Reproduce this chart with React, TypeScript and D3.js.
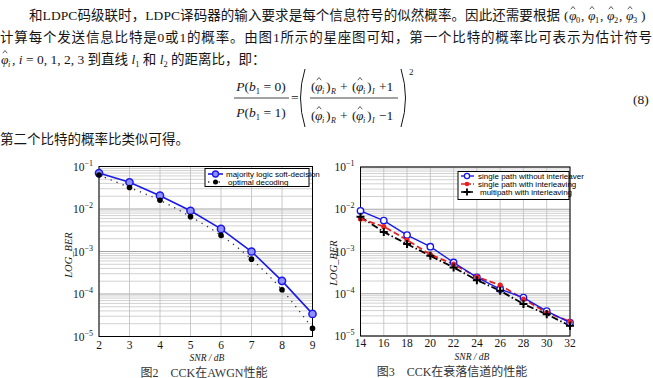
import React from 'react';
import * as d3 from 'd3';

// ---------- data ----------
const awgnSnr = [2, 3, 4, 5, 6, 7, 8, 9];
const awgnMajority = [0.07, 0.0425, 0.0206, 0.0091, 0.0034, 0.001, 0.000204, 0.000034];
const awgnOptimal = [0.063, 0.032, 0.016, 0.0066, 0.0024, 0.00066, 0.000126, 0.0000155];
const awgnXTicks = [2, 3, 4, 5, 6, 7, 8, 9];
const awgnLegend = ['majority logic soft-decision', 'optimal decoding'];

const fadeSnr = [14, 16, 18, 20, 22, 24, 26, 28, 30, 32];
const fadeNoInterleave = [0.0092, 0.0054, 0.00245, 0.0013, 0.00055, 0.000245, 0.000129, 0.000081, 0.000039, 0.0000207];
const fadeInterleave = [0.0059, 0.0039, 0.00187, 0.00085, 0.0005, 0.00025, 0.00016, 0.000075, 0.000036, 0.000022];
const fadeMultipath = [0.0066, 0.0029, 0.0015, 0.00079, 0.00042, 0.00021, 0.000118, 0.000057, 0.0000325, 0.0000175];
const fadeXTicks = [14, 16, 18, 20, 22, 24, 26, 28, 30, 32];
const fadeLegend = ['single path without interleaver', 'single path with interleaving', 'multipath with interleaving'];

const yTickExps = [-1, -2, -3, -4, -5];

const SERIF = "'Liberation Serif', 'Noto Sans CJK SC', serif";
const SANS = "'Liberation Sans', Arial, sans-serif";
const TXT = '#151515';
const BLUE = '#1a1ae8';
const RED = '#e82020';

type Box = { x0: number; x1: number; yTop: number; yBot: number };

function Grid({ box, xs, ys, xTicks }: { box: Box; xs: any; ys: any; xTicks: number[] }) {
  const minors: number[] = [];
  for (let e = -5; e < -1; e++) for (let m = 2; m <= 9; m++) minors.push(m * Math.pow(10, e));
  return (
    <g>
      {minors.map((v, i) => (
        <line key={'h' + i} x1={box.x0} x2={box.x1} y1={ys(v)} y2={ys(v)} stroke="#bdbdbd" strokeWidth={0.7} />
      ))}
      {yTickExps.map((e) => (
        <line key={'d' + e} x1={box.x0} x2={box.x1} y1={ys(Math.pow(10, e))} y2={ys(Math.pow(10, e))} stroke="#9a9a9a" strokeWidth={0.9} />
      ))}
      {xTicks.map((t) => (
        <line key={'v' + t} x1={xs(t)} x2={xs(t)} y1={box.yTop} y2={box.yBot} stroke="#bdbdbd" strokeWidth={0.8} />
      ))}
      <rect x={box.x0} y={box.yTop} width={box.x1 - box.x0} height={box.yBot - box.yTop} fill="none" stroke="#000" strokeWidth={1} />
    </g>
  );
}

function Axes({ box, xs, ys, xTicks, xLabelY, snrY, yLabelX, yLabelY, titleX }: any) {
  return (
    <g fill={TXT}>
      {yTickExps.map((e) => (
        <text key={e} x={box.x0 - 6} y={ys(Math.pow(10, e)) + 4} textAnchor="end" fontSize={11.5} fontFamily={SERIF}>
          10<tspan dy={-5} fontSize={8}>{'\u2212' + Math.abs(e)}</tspan>
        </text>
      ))}
      {xTicks.map((t: number) => (
        <text key={t} x={xs(t)} y={xLabelY} textAnchor="middle" fontSize={11.5} fontFamily={SERIF}>
          {t}
        </text>
      ))}
      <text x={titleX} y={snrY} textAnchor="middle" fontSize={9.5} fontStyle="italic" fontFamily={SERIF}>
        SNR / dB
      </text>
      <text transform={`translate(${yLabelX},${yLabelY}) rotate(-90)`} textAnchor="middle" fontSize={10.5} fontStyle="italic" fontFamily={SERIF}>
        LOG_BER
      </text>
    </g>
  );
}

function PhiHat({ x, y, fs = 13.5, sub }: { x: number; y: number; fs?: number; sub?: string }) {
  return (
    <g>
      <text x={x} y={y} fontSize={fs} fontStyle="italic" fontFamily={SERIF} fill={TXT}>φ</text>
      <path d={`M${x + 1.8},${y - fs * 0.8} L${x + 4},${y - fs * 1.0} L${x + 6.2},${y - fs * 0.8}`} fill="none" stroke={TXT} strokeWidth={0.7} />
      {sub && (
        <text x={x + 7} y={y + 3} fontSize={fs * 0.62} fontFamily={SERIF} fontStyle={sub === 'i' ? 'italic' : 'normal'} fill={TXT}>
          {sub}
        </text>
      )}
    </g>
  );
}

function EqRow({ y, last }: { y: number; last: string }) {
  return (
    <g fill={TXT} fontFamily={SERIF} fontSize={13.5}>
      <text x={311} y={y}>(</text>
      <PhiHat x={315} y={y} sub="i" />
      <text x={326} y={y}>)</text>
      <text x={331} y={y + 3} fontSize={8} fontStyle="italic">R</text>
      <text x={340} y={y}>+</text>
      <text x={352} y={y}>(</text>
      <PhiHat x={356} y={y} sub="i" />
      <text x={367} y={y}>)</text>
      <text x={372} y={y + 3} fontSize={8} fontStyle="italic">I</text>
      <text x={379} y={y}>{last}</text>
    </g>
  );
}

export default function App() {
  const c1: Box = { x0: 99, x1: 312.5, yTop: 166.5, yBot: 336.5 };
  const c2: Box = { x0: 360.5, x1: 570, yTop: 167, yBot: 336 };
  const xs1 = d3.scaleLinear().domain([2, 9]).range([c1.x0, c1.x1]);
  const ys1 = d3.scaleLog().domain([1e-5, 1e-1]).range([c1.yBot, c1.yTop]);
  const xs2 = d3.scaleLinear().domain([14, 32]).range([c2.x0, c2.x1]);
  const ys2 = d3.scaleLog().domain([1e-5, 1e-1]).range([c2.yBot, c2.yTop]);

  const line1 = d3.line<number>().x((_, i) => xs1(awgnSnr[i])).y((d) => ys1(d));
  const line1c = d3.line<number>().x((_, i) => xs1(awgnSnr[i])).y((d) => ys1(d)).curve(d3.curveCatmullRom);
  const line2 = d3.line<number>().x((_, i) => xs2(fadeSnr[i])).y((d) => ys2(d));

  const plus = (x: number, y: number, s = 4) => `M${x - s},${y}H${x + s}M${x},${y - s}V${y + s}`;

  return (
    <svg width={653} height={378} style={{ position: 'absolute', left: 0, top: 0, background: '#fff' }}>
      <rect width={653} height={378} fill="#fff" />
      {/* ---------- body text ---------- */}
      <g fill={TXT} fontFamily={SERIF} fontSize={13.5}>
        <text x={29} y={20} textLength={531} lengthAdjust="spacing">
          和LDPC码级联时，LDPC译码器的输入要求是每个信息符号的似然概率。因此还需要根据
        </text>
        <text x={564} y={20}>(</text>
        <PhiHat x={569} y={20} sub="0" />
        <text x={581} y={20}>,</text>
        <PhiHat x={588} y={20} sub="1" />
        <text x={600} y={20}>,</text>
        <PhiHat x={607} y={20} sub="2" />
        <text x={619} y={20}>,</text>
        <PhiHat x={626} y={20} sub="3" />
        <text x={641} y={20}>)</text>

        <text x={0} y={42} textLength={652} lengthAdjust="spacing">
          计算每个发送信息比特是0或1的概率。由图1所示的星座图可知，第一个比特的概率比可表示为估计符号
        </text>

        <PhiHat x={1} y={64} sub="i" />
        <text x={12} y={64}>
          ,<tspan fontStyle="italic"> i</tspan> = 0, 1, 2, 3 到直线 <tspan fontStyle="italic">l</tspan>
          <tspan dy={3} fontSize={8.5}>1</tspan>
          <tspan dy={-3}> 和 </tspan>
          <tspan fontStyle="italic">l</tspan>
          <tspan dy={3} fontSize={8.5}>2</tspan>
          <tspan dy={-3}> 的距离比，即：</tspan>
        </text>

        {/* equation */}
        <text x={261} y={91} textAnchor="middle">
          <tspan fontStyle="italic">P</tspan>(<tspan fontStyle="italic">b</tspan>
          <tspan dy={3} fontSize={8.5}>1</tspan>
          <tspan dy={-3}> = 0)</tspan>
        </text>
        <line x1={234} x2={289} y1={98} y2={98} stroke={TXT} strokeWidth={0.8} />
        <text x={261} y={117} textAnchor="middle">
          <tspan fontStyle="italic">P</tspan>(<tspan fontStyle="italic">b</tspan>
          <tspan dy={3} fontSize={8.5}>1</tspan>
          <tspan dy={-3}> = 1)</tspan>
        </text>
        <text x={291} y={102}>=</text>
        <path d="M305,69 Q296,98 305,127" fill="none" stroke={TXT} strokeWidth={1} />
        <path d="M401,69 Q410,98 401,127" fill="none" stroke={TXT} strokeWidth={1} />
        <text x={409} y={75} fontSize={9}>2</text>
        <EqRow y={91} last="+1" />
        <line x1={310} x2={398} y1={98} y2={98} stroke={TXT} strokeWidth={0.8} />
        <EqRow y={120} last={'\u22121'} />
        <text x={633} y={104}>(8)</text>

        <text x={0} y={144}>第二个比特的概率比类似可得。</text>
      </g>

      {/* ---------- chart 1 ---------- */}
      <Grid box={c1} xs={xs1} ys={ys1} xTicks={awgnXTicks} />
      <path d={line1c(awgnOptimal) || ''} fill="none" stroke="#333" strokeWidth={1.3} strokeDasharray="1.3,5" />
      <path d={line1(awgnMajority) || ''} fill="none" stroke={BLUE} strokeWidth={1.6} />
      {awgnMajority.map((v, i) => (
        <circle key={'m' + i} cx={xs1(awgnSnr[i])} cy={ys1(v)} r={3.6} fill="#9090ff" stroke={BLUE} strokeWidth={1.5} />
      ))}
      {awgnOptimal.map((v, i) => (
        <circle key={'o' + i} cx={xs1(awgnSnr[i])} cy={ys1(v)} r={2.8} fill="#000" />
      ))}
      <Axes box={c1} xs={xs1} ys={ys1} xTicks={awgnXTicks} xLabelY={349} snrY={361} yLabelX={72} yLabelY={255} titleX={207} />
      <g>
        <rect x={205} y={168.5} width={104} height={18} fill="#fff" stroke="#000" strokeWidth={1} />
        <line x1={208} x2={223} y1={174} y2={174} stroke={BLUE} strokeWidth={1.6} />
        <circle cx={215.5} cy={174} r={3} fill="#9090ff" stroke={BLUE} strokeWidth={1.3} />
        <text x={226} y={176.8} fontSize={8} fontFamily={SANS} fill="#000">{awgnLegend[0]}</text>
        <line x1={208} x2={223} y1={182} y2={182} stroke="#333" strokeWidth={1.3} strokeDasharray="1.3,4" />
        <circle cx={215.5} cy={182} r={2.5} fill="#000" />
        <text x={228} y={184.8} fontSize={8} fontFamily={SANS} fill="#000">{awgnLegend[1]}</text>
      </g>
      <text x={204} y={376.5} textAnchor="middle" fontSize={12} fontFamily={SERIF} fill="#333">
        图2　CCK在AWGN性能
      </text>

      {/* ---------- chart 2 ---------- */}
      <Grid box={c2} xs={xs2} ys={ys2} xTicks={fadeXTicks} />
      <path d={line2(fadeMultipath) || ''} fill="none" stroke="#000" strokeWidth={1.8} strokeDasharray="7,2.5,1.5,2.5" />
      <path d={line2(fadeInterleave) || ''} fill="none" stroke={RED} strokeWidth={1.8} strokeDasharray="6,3" />
      <path d={line2(fadeNoInterleave) || ''} fill="none" stroke={BLUE} strokeWidth={1.4} />
      {fadeNoInterleave.map((v, i) => (
        <circle key={'b' + i} cx={xs2(fadeSnr[i])} cy={ys2(v)} r={3.2} fill="#fff" stroke={BLUE} strokeWidth={1.4} />
      ))}
      {fadeInterleave.map((v, i) => (
        <circle key={'r' + i} cx={xs2(fadeSnr[i])} cy={ys2(v)} r={2.6} fill={RED} />
      ))}
      {fadeMultipath.map((v, i) => (
        <path key={'k' + i} d={plus(xs2(fadeSnr[i]), ys2(v))} stroke="#000" strokeWidth={2} fill="none" />
      ))}
      <Axes box={c2} xs={xs2} ys={ys2} xTicks={fadeXTicks} xLabelY={347} snrY={359.5} yLabelX={337} yLabelY={263} titleX={472} />
      <g>
        <rect x={458} y={171.5} width={111} height={28} fill="#fff" stroke="#000" strokeWidth={1} />
        <line x1={461} x2={474} y1={176} y2={176} stroke={BLUE} strokeWidth={1.4} />
        <circle cx={467} cy={176} r={2.6} fill="#fff" stroke={BLUE} strokeWidth={1.3} />
        <text x={478} y={178.8} fontSize={8} fontFamily={SANS} fill="#000">{fadeLegend[0]}</text>
        <line x1={461} x2={474} y1={184} y2={184} stroke={RED} strokeWidth={1.6} strokeDasharray="4,2" />
        <circle cx={467} cy={184} r={2.3} fill={RED} />
        <text x={478} y={186.8} fontSize={8} fontFamily={SANS} fill="#000">{fadeLegend[1]}</text>
        <line x1={461} x2={474} y1={192} y2={192} stroke="#000" strokeWidth={1.6} strokeDasharray="4,1.5,1,1.5" />
        <path d={plus(467, 192, 3.5)} stroke="#000" strokeWidth={1.8} />
        <text x={480} y={194.8} fontSize={8} fontFamily={SANS} fill="#000">{fadeLegend[2]}</text>
      </g>
      <text x={452} y={376} textAnchor="middle" fontSize={12} fontFamily={SERIF} fill="#333">
        图3　CCK在衰落信道的性能
      </text>
    </svg>
  );
}
